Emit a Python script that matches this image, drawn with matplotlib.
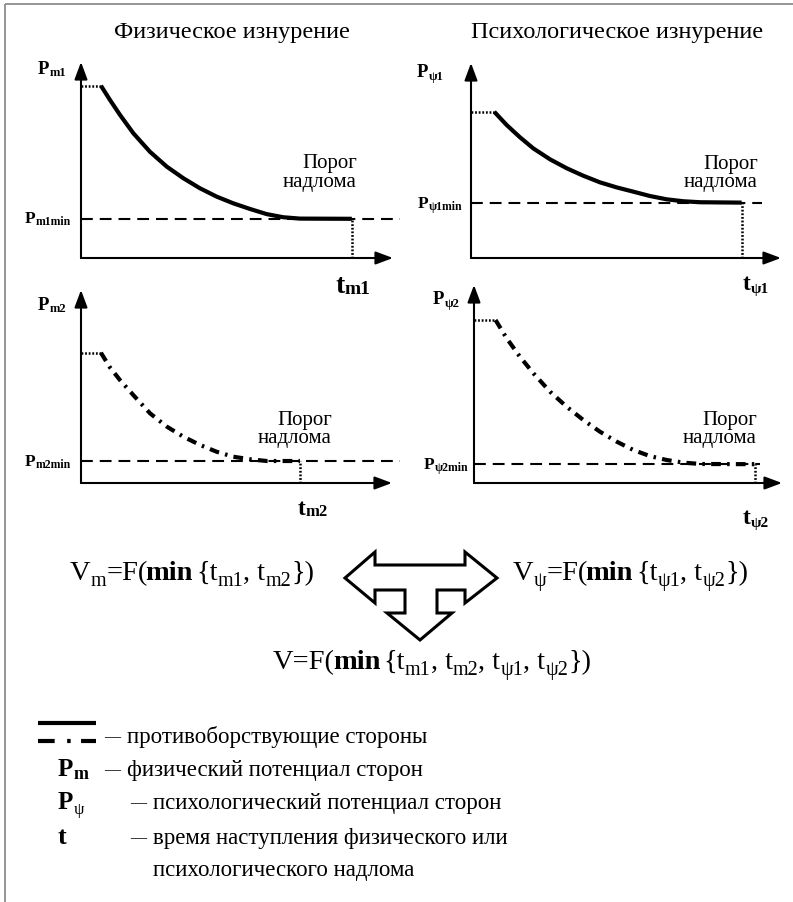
import matplotlib
matplotlib.use('Agg')
import matplotlib.pyplot as plt
from matplotlib.patches import Polygon

W, H = 793, 902
SERIF = ['Liberation Serif', 'DejaVu Serif']
plt.rcParams['lines.scale_dashes'] = False

# ---------------- data (arbitrary units: time 0..10, potential 0..10) ----------------
titles = ['Физическое изнурение', 'Психологическое изнурение']
threshold_label = ['Порог', 'надлома']

# physical potential, side 1 (solid)
t_m1 = [0.64, 0.93, 1.25, 1.68, 2.21, 2.75, 3.28, 3.81, 4.35, 4.88, 5.42, 5.95, 6.48, 7.02, 8.68]
P_m1 = [8.79, 8.06, 7.30, 6.36, 5.42, 4.66, 4.07, 3.56, 3.13, 2.79, 2.50, 2.24, 2.08, 2.01, 2.00]
P_m1_min = 2.00
# psychological potential, side 1 (solid)
t_psi1 = [0.75, 1.15, 1.58, 2.01, 2.55, 3.09, 3.62, 4.16, 4.70, 5.24, 5.77, 6.31, 6.85, 7.39, 8.73]
P_psi1 = [7.50, 6.82, 6.19, 5.62, 5.06, 4.60, 4.22, 3.88, 3.62, 3.40, 3.18, 3.01, 2.91, 2.86, 2.84]
P_psi1_min = 2.84
# physical potential, side 2 (dash-dot)
t_m2 = [0.64, 0.93, 1.25, 1.68, 2.22, 2.76, 3.29, 3.83, 4.36, 4.90, 5.43, 5.97, 7.04]
P_m2 = [6.75, 5.99, 5.34, 4.56, 3.61, 2.92, 2.40, 1.97, 1.62, 1.36, 1.23, 1.14, 1.14]
P_m2_min = 1.14
# psychological potential, side 2 (dash-dot)
t_psi2 = [0.70, 1.06, 1.49, 1.93, 2.47, 3.01, 3.55, 4.09, 4.63, 5.17, 5.71, 6.26, 6.80, 7.34, 9.12]
P_psi2 = [8.23, 7.31, 6.38, 5.54, 4.61, 3.85, 3.18, 2.59, 2.09, 1.67, 1.36, 1.16, 1.03, 0.96, 0.95]
P_psi2_min = 0.95

legend_rows = ['противоборствующие стороны', 'физический потенциал сторон',
               'психологический потенциал сторон', 'время наступления физического или',
               'психологического надлома']

# ---------------- figure ----------------
fig = plt.figure(figsize=(W / 100, H / 100), dpi=100)
ov = fig.add_axes([0, 0, 1, 1])
ov.set_xlim(0, W)
ov.set_ylim(H, 0)
ov.axis('off')
renderer = fig.canvas.get_renderer()

# frame (left and top)
ov.plot([5, 5], [4, H], color='#8c8c8c', lw=1.3, solid_capstyle='butt')
ov.plot([5, W], [4, 4], color='#8c8c8c', lw=1.3, solid_capstyle='butt')


def rich(x, y, parts, ha='left'):
    """parts: (text, size, bold, dy_px, extra_px)"""
    objs = []
    cx = 0.0
    for p in parts:
        s, size = p[0], p[1]
        bold = p[2] if len(p) > 2 else False
        dy = p[3] if len(p) > 3 else 0
        extra = p[4] if len(p) > 4 else 0
        t = ov.text(0, y + dy, s, fontsize=size, fontweight='bold' if bold else 'normal',
                    family=SERIF, va='baseline', ha='left', color='black')
        w = t.get_window_extent(renderer).width
        objs.append((t, cx))
        cx += w + extra
    off = x if ha == 'left' else (x - cx if ha == 'right' else x - cx / 2)
    for t, c in objs:
        t.set_x(off + c)


solid_style = dict(color='black', lw=3.0, ls='-', solid_capstyle='butt', solid_joinstyle='round')
dashdot_style = dict(color='black', lw=3.0, ls=(0, (7, 4.5, 1.8, 4.5)), dash_capstyle='butt')


def panel(rect, t, P, Pmin, thr_end, style):
    l, r, top, b = rect
    ax = fig.add_axes([l / W, 1 - b / H, (r - l) / W, (b - top) / H])
    ax.set_xlim(0, 10)
    ax.set_ylim(0, 10)
    ax.axis('off')
    ax.patch.set_alpha(0)
    ap = dict(arrowstyle='-|>,head_length=0.75,head_width=0.28', lw=1.5, color='black',
              shrinkA=0, shrinkB=0, mutation_scale=14)
    ax.annotate('', xy=(1, 0), xytext=(0, 0), xycoords='axes fraction', arrowprops=ap,
                annotation_clip=False)
    ax.annotate('', xy=(0, 1), xytext=(0, 0), xycoords='axes fraction', arrowprops=ap,
                annotation_clip=False)
    ax.plot([0, thr_end], [Pmin, Pmin], color='black', lw=1.5, ls=(0, (8.5, 5)),
            dash_capstyle='butt', clip_on=False, zorder=2)
    ax.plot([0, t[0]], [P[0], P[0]], color='black', lw=1.8, ls=(0, (1.3, 1.3)),
            clip_on=False, zorder=3)
    ax.plot([t[-1], t[-1]], [0, Pmin], color='black', lw=1.8, ls=(0, (1.3, 1.3)),
            clip_on=False, zorder=3)
    ax.plot(t, P, clip_on=False, zorder=4, **style)
    return ax


panel((81, 393, 62, 258), t_m1, P_m1, P_m1_min, 10.22, solid_style)
panel((471, 781, 63, 258), t_psi1, P_psi1, P_psi1_min, 9.39, solid_style)
panel((81, 392, 290, 483), t_m2, P_m2, P_m2_min, 10.26, dashdot_style)
panel((474, 782, 285, 483), t_psi2, P_psi2, P_psi2_min, 9.29, dashdot_style)

# titles
ov.text(232, 38, titles[0], fontsize=17.5, family=SERIF, ha='center', va='baseline')
ov.text(617, 38, titles[1], fontsize=17.5, family=SERIF, ha='center', va='baseline')

# axis labels
rich(38, 74, [('P', 13.5, True), ('m1', 9, True, 2)])
rich(71, 223, [('P', 12.5, True), ('m1min', 8.5, True, 2)], ha='right')
rich(335, 293, [('t', 20, True), ('m1', 14, True, 1)])

rich(417, 77, [('P', 13.5, True), ('ψ1', 9, True, 3)])
rich(462, 208, [('P', 12.5, True), ('ψ1min', 8.5, True, 2)], ha='right')
rich(743, 290, [('t', 17, True), ('ψ1', 11, True, 3)])

rich(38, 310, [('P', 13.5, True), ('m2', 9, True, 2)])
rich(71, 466, [('P', 12.5, True), ('m2min', 8.5, True, 2)], ha='right')
rich(298, 515, [('t', 17, True), ('m2', 12, True, 1)])

rich(433, 304, [('P', 13.5, True), ('ψ2', 9, True, 3)])
rich(468, 469, [('P', 12.5, True), ('ψ2min', 8.5, True, 2)], ha='right')
rich(743, 524, [('t', 17, True), ('ψ2', 11, True, 3)])

# threshold labels
for (xr, y1, y2) in [(357, 168, 187), (758, 169, 187), (332, 425, 443), (757, 425, 443)]:
    ov.text(xr, y1, threshold_label[0], fontsize=15, family=SERIF, ha='right', va='baseline')
    ov.text(xr, y2, threshold_label[1], fontsize=15, family=SERIF, ha='right', va='baseline')

# formulas
FS, SS, SD = 20.5, 14.5, 6
rich(314, 580, [('V', FS), ('m', SS, False, SD), ('=F(', FS, False, 0, -2), ('min', FS, True, 0, 3),
                ('{t', FS), ('m1', SS, False, SD), (', t', FS), ('m2', SS, False, SD), ('})', FS)],
     ha='right')
rich(513, 580, [('V', FS), ('ψ', SS, False, SD), ('=F(', FS, False, 0, -2), ('min', FS, True, 0, 3),
                ('{t', FS), ('ψ1', SS, False, SD), (', t', FS), ('ψ2', SS, False, SD), ('})', FS)])
rich(432, 669, [('V=F(', FS, False, 0, -2), ('min', FS, True, 0, 3), ('{t', FS), ('m1', SS, False, SD),
                (', t', FS), ('m2', SS, False, SD), (', t', FS), ('ψ1', SS, False, SD),
                (', t', FS), ('ψ2', SS, False, SD), ('})', FS)], ha='center')

# T-shaped three-way arrow
arrow_pts = [(345, 578), (375, 552), (375, 565), (465, 565), (465, 552), (497, 578),
             (465, 603), (465, 590), (437, 590), (437, 613), (452, 613), (420, 640),
             (387, 613), (405, 613), (405, 590), (375, 590), (375, 603)]
ov.add_patch(Polygon(arrow_pts, closed=True, facecolor='white', edgecolor='black',
                     lw=2.2, joinstyle='miter'))

# legend
LF = 16.5
DF = 11.5  # dash glyph size
ov.plot([38, 96], [723, 723], **solid_style)
ov.plot([38, 96], [741, 741], color='black', lw=3.0, ls=(0, (12, 9, 2.5, 7.5)),
        dash_capstyle='butt')
ov.text(104, 741, '—', fontsize=DF, family=SERIF, va='baseline')
ov.text(127, 743, legend_rows[0], fontsize=LF, family=SERIF, va='baseline')

rich(58, 776, [('P', 18, True), ('m', 13, True, 3)])
ov.text(104, 774, '—', fontsize=DF, family=SERIF, va='baseline')
ov.text(127, 776, legend_rows[1], fontsize=LF, family=SERIF, va='baseline')

rich(58, 809, [('P', 18, True), ('ψ', 12, False, 5)])
rich(58, 844, [('t', 19, True)])
for y, txt in [(809, legend_rows[2]), (844, legend_rows[3])]:
    ov.text(130, y - 2, '—', fontsize=DF, family=SERIF, va='baseline')
    ov.text(153, y, txt, fontsize=LF, family=SERIF, va='baseline')
ov.text(153, 876, legend_rows[4], fontsize=LF, family=SERIF, va='baseline')

fig.savefig('out.png', dpi=100, facecolor='white')
